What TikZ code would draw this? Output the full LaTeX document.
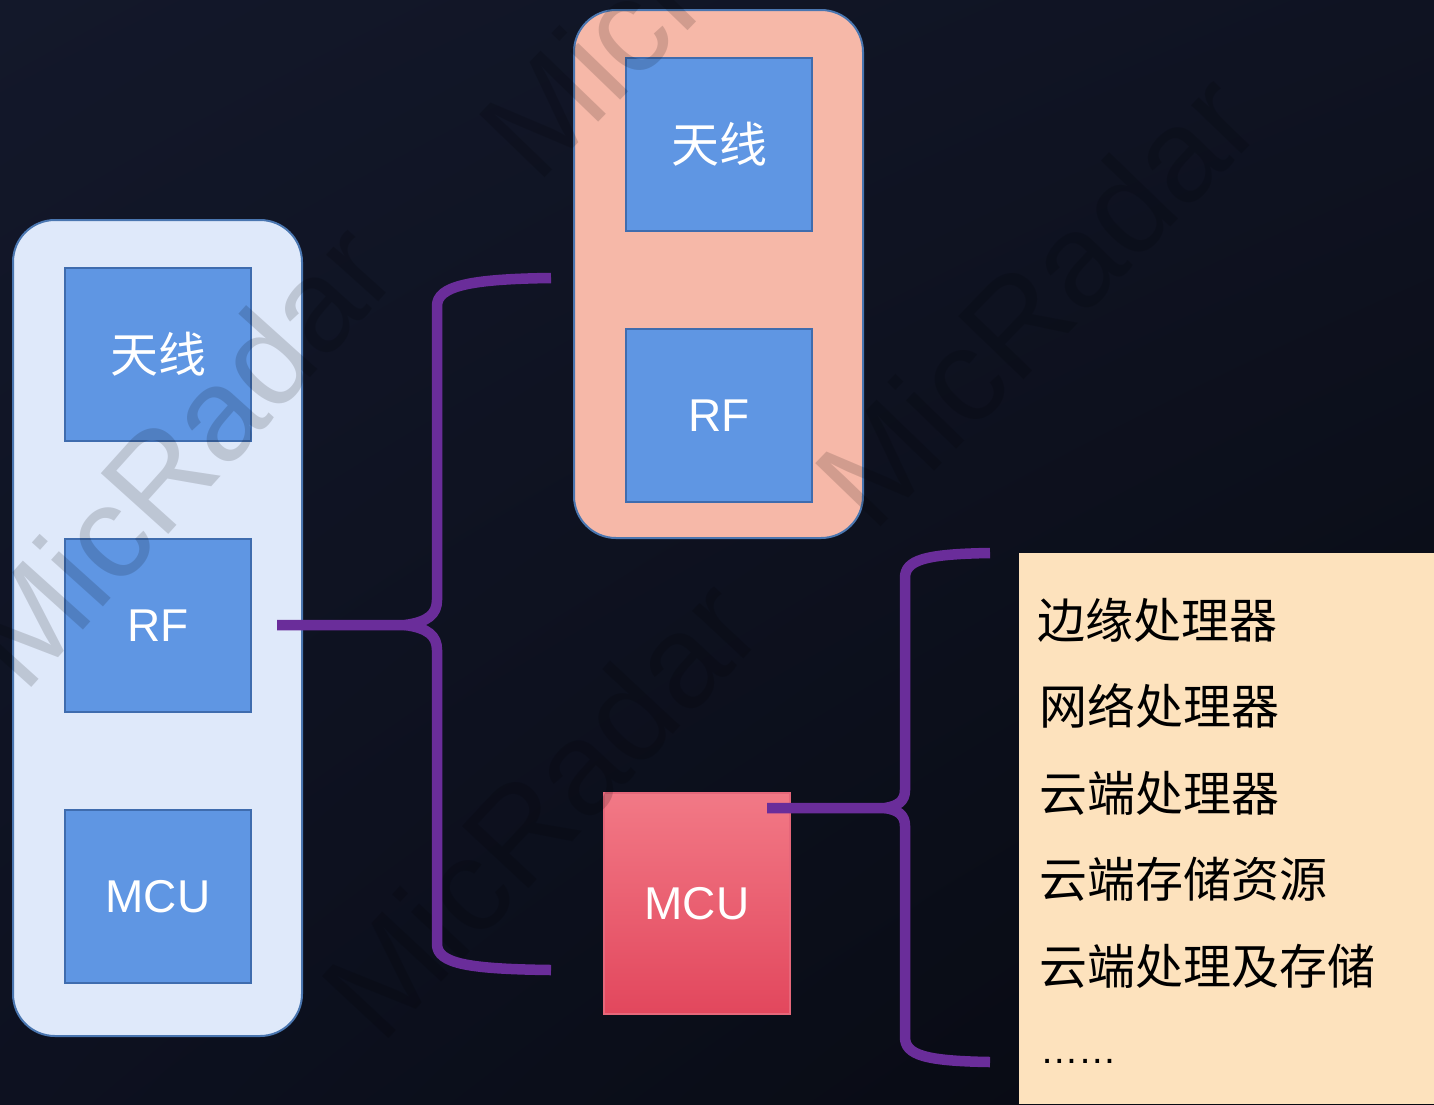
\documentclass[tikz,border=0pt]{standalone}
\usepackage{fontspec}
\usetikzlibrary{shadings}
\setmainfont{Liberation Sans}
\newfontfamily\cjk{Noto Sans CJK SC}
\definecolor{bgUL}{HTML}{13182A}
\definecolor{bgUR}{HTML}{0F1322}
\definecolor{bgLL}{HTML}{0D1120}
\definecolor{bgLR}{HTML}{070910}
\definecolor{edgeblue}{HTML}{4A76B0}
\definecolor{paleblue}{HTML}{DFE9FA}
\definecolor{salmon}{HTML}{F6B8A8}
\definecolor{boxblue}{HTML}{5F96E3}
\definecolor{boxedge}{HTML}{3F6CAE}
\definecolor{mcutop}{HTML}{F27986}
\definecolor{mcubot}{HTML}{E2475D}
\definecolor{mcuedge}{HTML}{E6677A}
\definecolor{bracepurple}{HTML}{6A2D9A}
\definecolor{peach}{HTML}{FDE2BD}
\begin{document}
\begin{tikzpicture}[x=1pt,y=-1pt]
\tikzset{
  container/.style={rounded corners=42pt, draw=edgeblue, line width=2pt, inner sep=0pt},
  bluebox/.style={draw=boxedge, fill=boxblue, line width=2pt, minimum width=186pt,
    minimum height=173pt, inner sep=0pt, text=white, font=\fontsize{46}{50}\selectfont},
  cjkfont/.style={font=\cjk\fontsize{48}{52}\selectfont},
  brace/.style={draw=bracepurple, line width=10.5pt, line cap=butt, line join=round},
  listitem/.style={anchor=base west, inner sep=0pt, font=\cjk\fontsize{48}{52}\selectfont, text=black},
  wmark/.style={font=\fontsize{132}{150}\selectfont, text=black, text opacity=0.15, inner sep=0pt}
}
\useasboundingbox (0,0) rectangle (1434,1104);
% background
\shade[upper left=bgUL, upper right=bgUR, lower left=bgLL, lower right=bgLR] (0,0) rectangle (1434,1104);

% left container
\node[container, fill=paleblue, minimum width=289pt, minimum height=816pt] (leftc) at (157.5,628) {};
\node[bluebox, cjkfont, text=white] (antL) at (158,354.5) {天线};
\node[bluebox] (rfL) at (158,625.5) {RF};
\node[bluebox] (mcuL) at (158,896.5) {MCU};

% top container
\node[container, fill=salmon, minimum width=289pt, minimum height=528pt] (topc) at (718.5,274) {};
\node[bluebox, cjkfont, text=white] (antT) at (719,144.5) {天线};
\node[bluebox] (rfT) at (719,415.5) {RF};

% MCU red
\node[draw=mcuedge, line width=1.5pt, top color=mcutop, bottom color=mcubot,
  minimum width=186pt, minimum height=221pt, inner sep=0pt, text=white,
  font=\fontsize{46}{50}\selectfont] (mcuR) at (697,903.5) {MCU};

% right list panel
\fill[peach] (1019,553) rectangle (1434,1104);
\node[listitem] (l1) at (1037,638) {边缘处理器};
\node[listitem] (l2) at (1039,724.5) {网络处理器};
\node[listitem] (l3) at (1039,811) {云端处理器};
\node[listitem] (l4) at (1039,897.5) {云端存储资源};
\node[listitem] (l5) at (1039,984) {云端处理及存储};
\node[anchor=base west, inner sep=0pt, font=\fontsize{38.5}{40}\selectfont, text=black] (l6) at (1040,1063) {……};

% watermarks
\node[wmark, rotate=48] (wm1) at (178,454) {MicRadar};
\node[wmark, rotate=46] (wm2) at (700,-50) {MicRadar};
\node[wmark, rotate=46] (wm3) at (1036,299) {MicRadar};
\node[wmark, rotate=47] (wm4) at (540,808) {MicRadar};

% brace 1
\coordinate (b1s) at (277,625);
\coordinate (b1tip) at (405,625);
\coordinate (b1t) at (551,278);
\coordinate (b1b) at (551,970);
\draw[brace] (b1t) .. controls (470,279) and (437,286) .. (437,306) -- (437,600)
  .. controls (437,614) and (428,622) .. (b1tip) -- (b1s);
\draw[brace] (b1tip) .. controls (428,628) and (437,636) .. (437,650) -- (437,944)
  .. controls (437,964) and (470,969) .. (b1b);

% brace 2
\coordinate (b2s) at (767,808);
\coordinate (b2tip) at (885,808);
\coordinate (b2t) at (990,553);
\coordinate (b2b) at (990,1062);
\draw[brace] (b2t) .. controls (925,554) and (905,560) .. (905,578) -- (905,790)
  .. controls (905,801) and (898,806) .. (b2tip) -- (b2s);
\draw[brace] (b2tip) .. controls (898,810) and (905,815) .. (905,826) -- (905,1037)
  .. controls (905,1055) and (925,1061) .. (b2b);
\end{tikzpicture}
\end{document}
